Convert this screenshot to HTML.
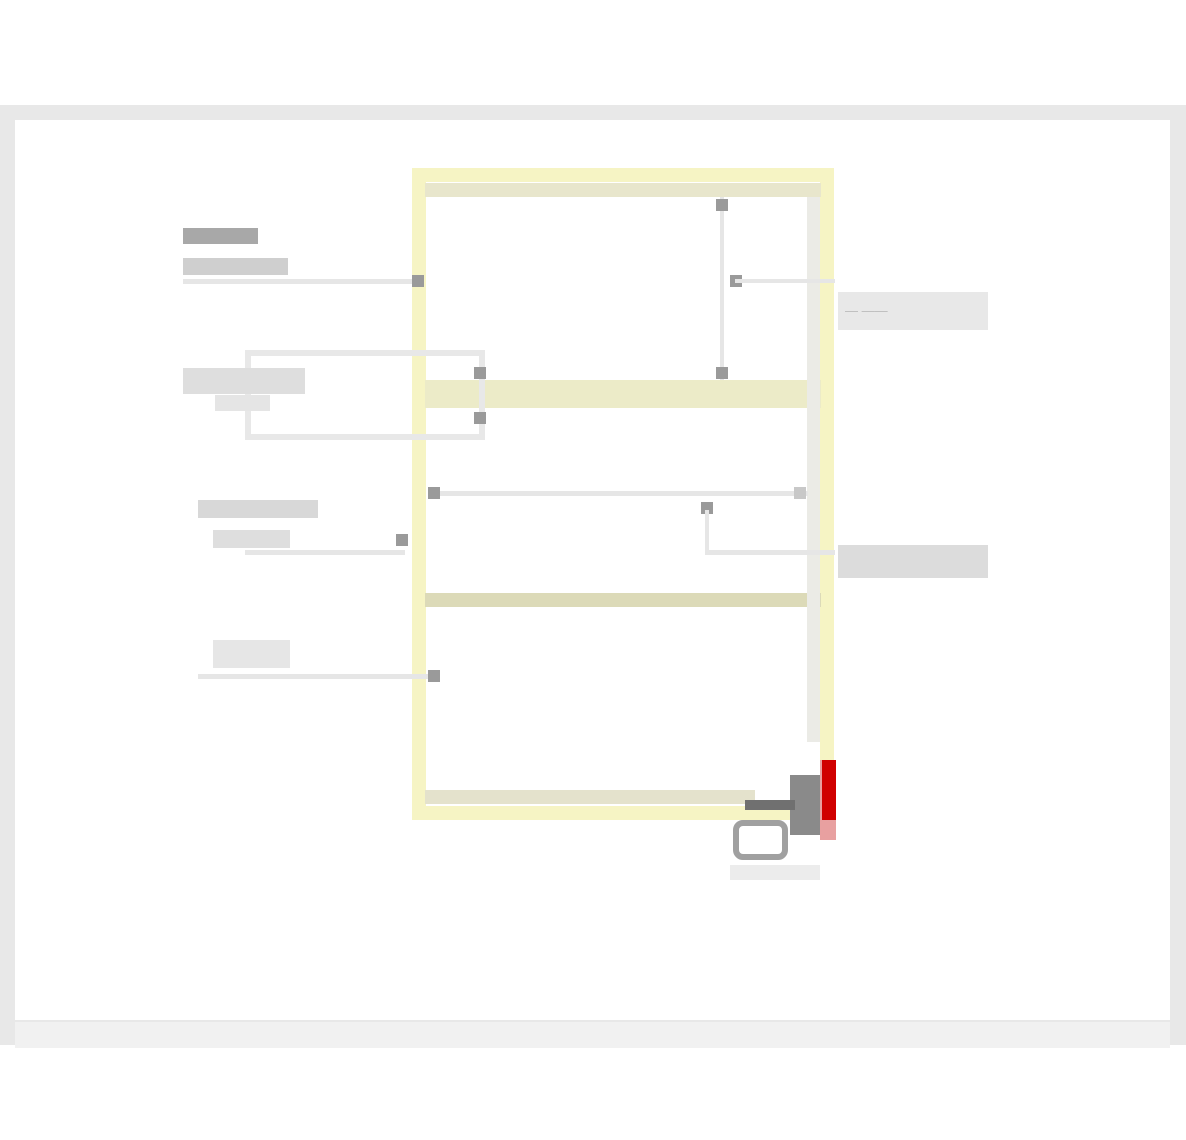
<!DOCTYPE html>
<html><head><meta charset="utf-8"><style>
body{margin:0;width:1186px;height:1140px;background:#fff;position:relative;overflow:hidden;font-family:"Liberation Sans",sans-serif}
div{position:absolute;box-sizing:border-box}
.sq{width:12px;height:12px;background:#9a9a9a}
.ln{background:#e6e6e6}
.t{color:#bbb;font-size:13px;line-height:15px;white-space:nowrap}
</style></head><body>
<div style="left:0;top:105px;width:1186px;height:940px;background:#e8e8e8"></div>
<div style="left:15px;top:120px;width:1155px;height:900px;background:#fff"></div>
<div style="left:15px;top:1022px;width:1155px;height:26px;background:#f1f1f1"></div>
<!-- main yellow frame -->
<div style="left:412px;top:168px;width:422px;height:652px;border:14px solid #f6f4c4"></div>
<div style="left:425px;top:183px;width:396px;height:14px;background:#e8e6cc"></div>
<div style="left:425px;top:380px;width:396px;height:28px;background:#ecebc8"></div>
<div style="left:425px;top:593px;width:396px;height:14px;background:#dcdab8"></div>
<div style="left:425px;top:790px;width:330px;height:14px;background:#e4e2cc"></div>
<div style="left:807px;top:197px;width:13px;height:545px;background:#ebebe6"></div>
<!-- top right connector -->
<div class="ln" style="left:720px;top:197px;width:4px;height:183px"></div>
<div class="sq" style="left:716px;top:199px"></div>
<div class="sq" style="left:730px;top:275px"></div>
<div class="sq" style="left:716px;top:367px"></div>
<div class="ln" style="left:735px;top:279px;width:100px;height:4px"></div>
<div style="left:838px;top:292px;width:150px;height:38px;background:#e8e8e8"></div>
<div class="t" style="left:845px;top:303px">— ——</div>
<!-- left labels -->
<div style="left:183px;top:228px;width:75px;height:16px;background:#a8a8a8"></div>
<div style="left:183px;top:258px;width:105px;height:17px;background:#cfcfcf"></div>
<div class="ln" style="left:183px;top:279px;width:230px;height:5px"></div>
<div class="sq" style="left:412px;top:275px"></div>
<div style="left:245px;top:350px;width:240px;height:90px;border:6px solid #e8e8e8"></div>
<div class="sq" style="left:474px;top:367px"></div>
<div class="sq" style="left:474px;top:412px"></div>
<div style="left:183px;top:368px;width:122px;height:26px;background:#dedede"></div>
<div style="left:215px;top:395px;width:55px;height:16px;background:#e5e5e5"></div>
<!-- middle -->
<div class="ln" style="left:432px;top:491px;width:376px;height:5px"></div>
<div class="sq" style="left:428px;top:487px"></div>
<div class="sq" style="left:794px;top:487px;background:#c8c8c8"></div>
<div class="sq" style="left:701px;top:502px"></div>
<div class="ln" style="left:705px;top:510px;width:4px;height:45px"></div>
<div class="ln" style="left:705px;top:550px;width:130px;height:5px"></div>
<div style="left:838px;top:545px;width:150px;height:33px;background:#dcdcdc"></div>
<div style="left:198px;top:500px;width:120px;height:18px;background:#d8d8d8"></div>
<div style="left:213px;top:530px;width:77px;height:18px;background:#dedede"></div>
<div class="ln" style="left:245px;top:550px;width:160px;height:5px"></div>
<div class="sq" style="left:396px;top:534px"></div>
<!-- bottom left -->
<div style="left:213px;top:640px;width:77px;height:28px;background:#e6e6e6"></div>
<div class="ln" style="left:198px;top:674px;width:234px;height:5px"></div>
<div class="sq" style="left:428px;top:670px"></div>
<!-- resize handle -->
<div style="left:820px;top:760px;width:16px;height:80px;background:#e8a0a0"></div>
<div style="left:822px;top:760px;width:14px;height:60px;background:#d00000"></div>
<div style="left:790px;top:775px;width:30px;height:60px;background:#8a8a8a"></div>
<div style="left:745px;top:800px;width:50px;height:10px;background:#707070"></div>
<div style="left:733px;top:820px;width:55px;height:40px;border:6px solid #a0a0a0;border-radius:10px"></div>
<div style="left:730px;top:865px;width:90px;height:15px;background:#ececec"></div>
</body></html>
